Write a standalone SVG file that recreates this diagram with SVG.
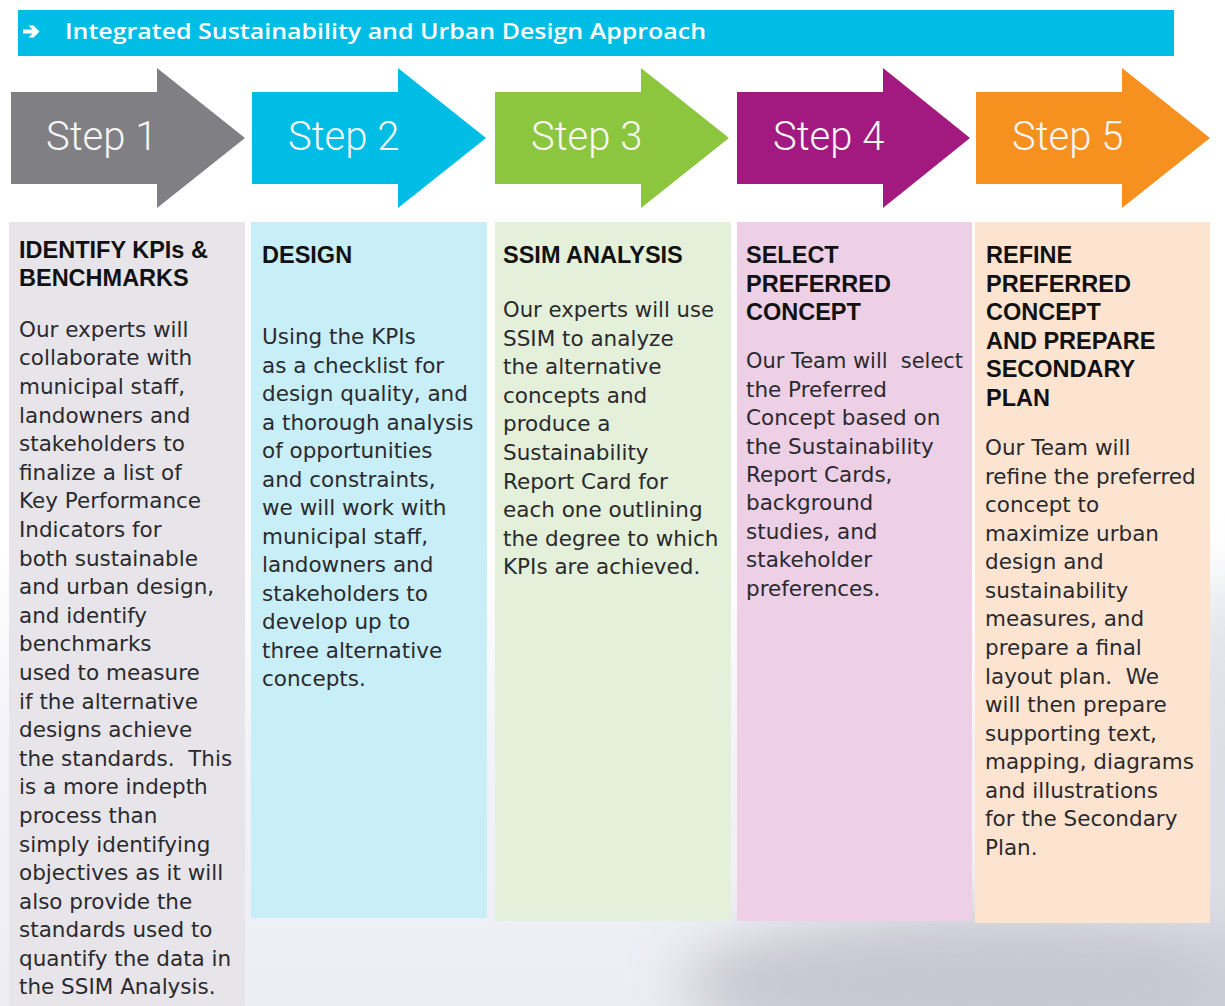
<svg xmlns="http://www.w3.org/2000/svg" width="1225" height="1006" viewBox="0 0 1225 1006">
  <defs>
    <linearGradient id="bgGrad" x1="0" y1="0" x2="0" y2="1">
      <stop offset="0" stop-color="#ffffff"/>
      <stop offset="0.45" stop-color="#f1f3f8"/>
      <stop offset="1" stop-color="#eceef4"/>
    </linearGradient>
    <filter id="blur" x="-50%" y="-50%" width="200%" height="200%">
      <feGaussianBlur stdDeviation="28"/>
    </filter>
    <style>
      .title { font-family: "Open Sans", "Liberation Sans", sans-serif; font-weight: 600; font-size: 22px; fill: #ffffff; }
      .step { font-family: Roboto, "Liberation Sans", sans-serif; font-weight: 300; font-size: 40px; fill: #f6f6f6; }
      .head { font-family: "Liberation Sans", Arial, sans-serif; font-weight: bold; font-size: 23.5px; fill: #111111; }
      .body { font-family: "DejaVu Sans", "Liberation Sans", sans-serif; font-size: 21.5px; fill: #2a2a2e; }
    </style>
  </defs>

  <!-- background -->
  <rect x="0" y="0" width="1225" height="1006" fill="#ffffff"/>
  <rect x="0" y="540" width="1225" height="466" fill="url(#bgGrad)"/>
  <ellipse cx="1020" cy="985" rx="340" ry="75" fill="#c2c3ce" opacity="0.9" filter="url(#blur)"/>
  <ellipse cx="1225" cy="800" rx="40" ry="230" fill="#d0d2dc" opacity="0.7" filter="url(#blur)"/>

  <!-- header bar -->
  <g id="header">
    <rect x="18" y="10" width="1156" height="46" fill="#00bde6"/>
    <path d="M23 29.5 H32.5 L28.5 25.5 H33.5 L39.5 31.5 L33.5 37.5 H28.5 L32.5 33.5 H23 Z" fill="#ffffff"/>
    <text class="title" x="65" y="39" textLength="641" lengthAdjust="spacingAndGlyphs">Integrated Sustainability and Urban Design Approach</text>
  </g>

  <!-- step 1 -->
  <g id="step1">
    <rect x="9" y="222" width="236" height="784" fill="#e7e5e9"/>
    <polygon points="11,92 157,92 157,68 245,138 157,208 157,184 11,184" fill="#808084"/>
    <text class="step" x="46" y="150">Step 1</text>
    <text class="head" x="19" y="258">IDENTIFY KPIs &amp;<tspan x="19" dy="27.5">BENCHMARKS</tspan></text>
    <text class="body" x="19" y="336.7">
      <tspan x="19" dy="0">Our experts will</tspan>
      <tspan x="19" dy="28.6">collaborate with</tspan>
      <tspan x="19" dy="28.6">municipal staff,</tspan>
      <tspan x="19" dy="28.6">landowners and</tspan>
      <tspan x="19" dy="28.6">stakeholders to</tspan>
      <tspan x="19" dy="28.6">finalize a list of</tspan>
      <tspan x="19" dy="28.6">Key Performance</tspan>
      <tspan x="19" dy="28.6">Indicators for</tspan>
      <tspan x="19" dy="28.6">both sustainable</tspan>
      <tspan x="19" dy="28.6">and urban design,</tspan>
      <tspan x="19" dy="28.6">and identify</tspan>
      <tspan x="19" dy="28.6">benchmarks</tspan>
      <tspan x="19" dy="28.6">used to measure</tspan>
      <tspan x="19" dy="28.6">if the alternative</tspan>
      <tspan x="19" dy="28.6">designs achieve</tspan>
      <tspan x="19" dy="28.6" xml:space="preserve">the standards.  This</tspan>
      <tspan x="19" dy="28.6">is a more indepth</tspan>
      <tspan x="19" dy="28.6">process than</tspan>
      <tspan x="19" dy="28.6">simply identifying</tspan>
      <tspan x="19" dy="28.6">objectives as it will</tspan>
      <tspan x="19" dy="28.6">also provide the</tspan>
      <tspan x="19" dy="28.6">standards used to</tspan>
      <tspan x="19" dy="28.6">quantify the data in</tspan>
      <tspan x="19" dy="28.6">the SSIM Analysis.</tspan>
    </text>
  </g>

  <!-- step 2 -->
  <g id="step2">
    <rect x="251" y="222" width="236" height="696" fill="#c8eef8"/>
    <polygon points="252,92 398,92 398,68 486,138 398,208 398,184 252,184" fill="#00bde6"/>
    <text class="step" x="288" y="150">Step 2</text>
    <text class="head" x="262" y="263">DESIGN</text>
    <text class="body" x="262" y="344">
      <tspan x="262" dy="0">Using the KPIs</tspan>
      <tspan x="262" dy="28.5">as a checklist for</tspan>
      <tspan x="262" dy="28.5">design quality, and</tspan>
      <tspan x="262" dy="28.5">a thorough analysis</tspan>
      <tspan x="262" dy="28.5">of opportunities</tspan>
      <tspan x="262" dy="28.5">and constraints,</tspan>
      <tspan x="262" dy="28.5">we will work with</tspan>
      <tspan x="262" dy="28.5">municipal staff,</tspan>
      <tspan x="262" dy="28.5">landowners and</tspan>
      <tspan x="262" dy="28.5">stakeholders to</tspan>
      <tspan x="262" dy="28.5">develop up to</tspan>
      <tspan x="262" dy="28.5">three alternative</tspan>
      <tspan x="262" dy="28.5">concepts.</tspan>
    </text>
  </g>

  <!-- step 3 -->
  <g id="step3">
    <rect x="495" y="222" width="236" height="699" fill="#e4f0d9"/>
    <polygon points="495,92 641,92 641,68 729,138 641,208 641,184 495,184" fill="#8cc63e"/>
    <text class="step" x="531" y="150">Step 3</text>
    <text class="head" x="503" y="263">SSIM ANALYSIS</text>
    <text class="body" x="503" y="317">
      <tspan x="503" dy="0" textLength="211" lengthAdjust="spacingAndGlyphs">Our experts will use</tspan>
      <tspan x="503" dy="28.6">SSIM to analyze</tspan>
      <tspan x="503" dy="28.6">the alternative</tspan>
      <tspan x="503" dy="28.6">concepts and</tspan>
      <tspan x="503" dy="28.6">produce a</tspan>
      <tspan x="503" dy="28.6">Sustainability</tspan>
      <tspan x="503" dy="28.6">Report Card for</tspan>
      <tspan x="503" dy="28.6">each one outlining</tspan>
      <tspan x="503" dy="28.6">the degree to which</tspan>
      <tspan x="503" dy="28.6">KPIs are achieved.</tspan>
    </text>
  </g>

  <!-- step 4 -->
  <g id="step4">
    <rect x="737" y="222" width="235" height="699" fill="#edcfe6"/>
    <polygon points="737,92 883,92 883,68 970,138 883,208 883,184 737,184" fill="#a2197f"/>
    <text class="step" x="773" y="150">Step 4</text>
    <text class="head" x="746" y="263">SELECT<tspan x="746" dy="28.5">PREFERRED</tspan><tspan x="746" dy="28.5">CONCEPT</tspan></text>
    <text class="body" x="746" y="368.3">
      <tspan x="746" dy="0" xml:space="preserve" textLength="217" lengthAdjust="spacingAndGlyphs">Our Team will  select</tspan>
      <tspan x="746" dy="28.4">the Preferred</tspan>
      <tspan x="746" dy="28.4">Concept based on</tspan>
      <tspan x="746" dy="28.4">the Sustainability</tspan>
      <tspan x="746" dy="28.4">Report Cards,</tspan>
      <tspan x="746" dy="28.4">background</tspan>
      <tspan x="746" dy="28.4">studies, and</tspan>
      <tspan x="746" dy="28.4">stakeholder</tspan>
      <tspan x="746" dy="28.4">preferences.</tspan>
    </text>
  </g>

  <!-- step 5 -->
  <g id="step5">
    <rect x="975" y="222" width="235" height="701" fill="#fde4d1"/>
    <polygon points="976,92 1122,92 1122,68 1210,138 1122,208 1122,184 976,184" fill="#f6901e"/>
    <text class="step" x="1012" y="150">Step 5</text>
    <text class="head" x="986" y="263">REFINE<tspan x="986" dy="28.5">PREFERRED</tspan><tspan x="986" dy="28.5">CONCEPT</tspan><tspan x="986" dy="28.5">AND PREPARE</tspan><tspan x="986" dy="28.5">SECONDARY</tspan><tspan x="986" dy="28.5">PLAN</tspan></text>
    <text class="body" x="985" y="455">
      <tspan x="985" dy="0">Our Team will</tspan>
      <tspan x="985" dy="28.57">refine the preferred</tspan>
      <tspan x="985" dy="28.57">concept to</tspan>
      <tspan x="985" dy="28.57">maximize urban</tspan>
      <tspan x="985" dy="28.57">design and</tspan>
      <tspan x="985" dy="28.57">sustainability</tspan>
      <tspan x="985" dy="28.57">measures, and</tspan>
      <tspan x="985" dy="28.57">prepare a final</tspan>
      <tspan x="985" dy="28.57" xml:space="preserve">layout plan.  We</tspan>
      <tspan x="985" dy="28.57">will then prepare</tspan>
      <tspan x="985" dy="28.57">supporting text,</tspan>
      <tspan x="985" dy="28.57">mapping, diagrams</tspan>
      <tspan x="985" dy="28.57">and illustrations</tspan>
      <tspan x="985" dy="28.57">for the Secondary</tspan>
      <tspan x="985" dy="28.57">Plan.</tspan>
    </text>
  </g>

  <g id="connectors"/>
</svg>
